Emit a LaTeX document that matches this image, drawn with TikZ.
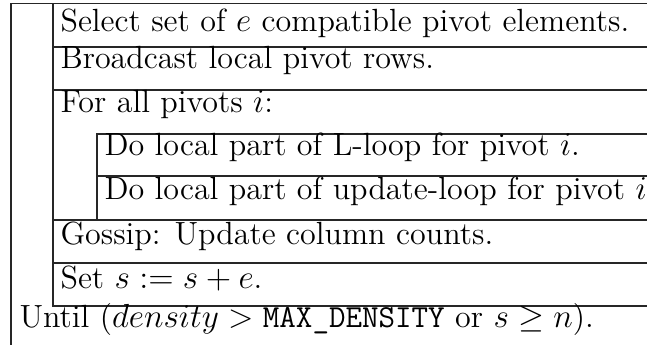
\documentclass[tikz,border=0pt]{standalone}
\begin{document}
\begin{tikzpicture}[x=0.36pt,y=-0.36pt,
  rule/.style={draw=black!85,line width=0.45pt},
  txt/.style={anchor=base west,inner sep=0pt,font=\fontsize{11.55}{14}\selectfont}]
\useasboundingbox (0,0) rectangle (647,344);
\clip (0,0) rectangle (647,344);
% frame lines
\draw[rule] (650,3.5) -- (11,3.5) -- (11,346);
\draw[rule] (53,3.5) -- (53,306) -- (650,306);
\draw[rule] (53,47) -- (650,47);
\draw[rule] (53,90) -- (650,90);
\draw[rule] (650,134) -- (97,134) -- (97,220);
\draw[rule] (97,176) -- (650,176);
\draw[rule] (53,220) -- (650,220);
\draw[rule] (53,263) -- (650,263);
% texts
\node[txt] (t1) at (60,31) {Select set of $e$ compatible pivot elements.};
\node[txt] (t2) at (60,68) {Broadcast local pivot rows.};
\node[txt] (t3) at (60,112) {For all pivots $i$:};
\node[txt] (t4) at (104,155) {Do local part of L-loop for pivot $i$.};
\node[txt] (t5) at (104,199) {Do local part of update-loop for pivot $i$.};
\node[txt] (t6) at (60,244) {Gossip: Update column counts.};
\node[txt] (t7) at (60,288) {Set $s := s + e$.};
\node[txt] (t8) at (19,327) {Until ($density > \texttt{MAX\_DENSITY}$ or $s \geq n$).};
\end{tikzpicture}
\end{document}
